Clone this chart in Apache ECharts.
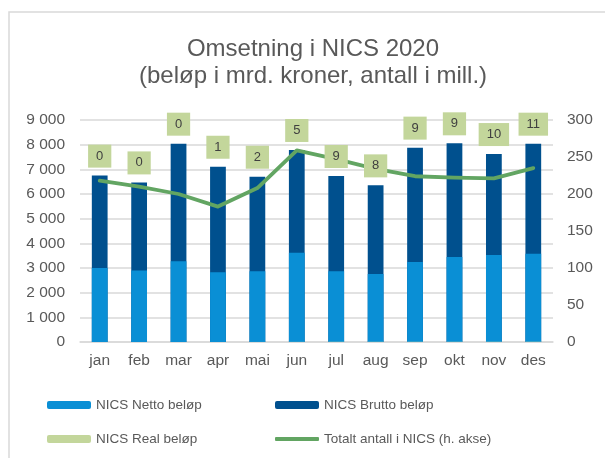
<!DOCTYPE html>
<html><head><meta charset="utf-8">
<script src="https://cdn.jsdelivr.net/npm/echarts@6/dist/echarts.min.js"></script>
<style>html,body{margin:0;padding:0;background:#fff}#c{width:605px;height:458px}</style>
</head><body><div id="c"></div>
<script>
const months = ['jan','feb','mar','apr','mai','jun','jul','aug','sep','okt','nov','des'];
const nettoValues = [3000, 2900, 3270, 2830, 2865, 3620, 2865, 2760, 3245, 3445, 3525, 3580];
const bruttoValues = [6745, 6470, 8040, 7105, 6700, 7785, 6730, 6350, 7880, 8055, 7620, 8040];
const realValues = [0, 0, 0, 1, 2, 5, 9, 8, 9, 9, 10, 11];
const antallValues = [218, 210, 200, 183, 208, 259, 247, 234, 224, 222, 221, 235];
const leftTicks = [0, 1000, 2000, 3000, 4000, 5000, 6000, 7000, 8000, 9000];
const rightTicks = [0, 50, 100, 150, 200, 250, 300];

const FONT = 'Liberation Sans, Arial, sans-serif';
const TXT = '#595959';
const GREEN_LINE = '#62a562';
const chart = echarts.init(document.getElementById('c'), null, {renderer: 'canvas'});
const legendBase = {padding: 0, itemWidth: 44, itemHeight: 8, textStyle: {color: TXT, fontSize: 13.5, fontFamily: FONT}, selectedMode: false};
chart.setOption({
  animation: false,
  graphic: [{type: 'rect', shape: {x: 9, y: 12, width: 700, height: 600}, style: {fill: 'none', stroke: '#d9d9d9', lineWidth: 1.5}, silent: true}],
  title: {
    text: 'Omsetning i NICS 2020\n(beløp i mrd. kroner, antall i mill.)',
    left: 308, top: 31, textAlign: 'center',
    textStyle: {color: TXT, fontSize: 24, fontWeight: 'normal', fontFamily: FONT, lineHeight: 27, align: 'center'}
  },
  legend: [
    Object.assign({data: ['NICS Netto beløp'], left: 47, top: 398}, legendBase),
    Object.assign({data: ['NICS Brutto beløp'], left: 275, top: 398}, legendBase),
    Object.assign({data: ['NICS Real beløp'], left: 47, top: 432}, legendBase),
    Object.assign({}, legendBase, {data: [{name: 'Totalt antall i NICS (h. akse)', icon: 'roundRect'}], left: 275, top: 432, itemHeight: 4,
      itemStyle: {color: GREEN_LINE}})
  ],
  grid: {left: 80, right: 52, top: 120, bottom: 116},
  xAxis: {
    type: 'category', data: months,
    axisLine: {lineStyle: {color: '#d9d9d9', width: 1.5}},
    axisTick: {show: false},
    axisLabel: {color: TXT, fontSize: 15.5, fontFamily: FONT, margin: 11}
  },
  yAxis: [
    {type: 'value', min: leftTicks[0], max: leftTicks[leftTicks.length-1], interval: 1000,
     axisLabel: {color: TXT, fontSize: 15.5, fontFamily: FONT, margin: 15, formatter: v => String(v).replace(/\B(?=(\d{3})+(?!\d))/g, ' ')},
     splitLine: {lineStyle: {color: '#d9d9d9', width: 1.5}}, axisLine: {show: false}, axisTick: {show: false}},
    {type: 'value', min: rightTicks[0], max: rightTicks[rightTicks.length-1], interval: 50,
     axisLabel: {color: TXT, fontSize: 15.5, fontFamily: FONT, margin: 14},
     splitLine: {show: false}, axisLine: {show: false}, axisTick: {show: false}}
  ],
  series: [
    {name: 'NICS Brutto beløp', type: 'bar', data: bruttoValues, barWidth: '40%', barGap: '-100%',
     itemStyle: {color: '#00508e'}, z: 2},
    {name: 'NICS Netto beløp', type: 'bar', data: nettoValues, barWidth: '40%', barGap: '-100%',
     itemStyle: {color: '#0a8fd5'}, z: 2},
    {name: 'NICS Real beløp', type: 'bar', data: realValues, barWidth: '40%', barGap: '-100%',
     itemStyle: {color: '#c3d69b'}, z: 2},
    {name: 'Totalt antall i NICS (h. akse)', type: 'line', yAxisIndex: 1, data: antallValues,
     symbol: 'none', z: 3, lineStyle: {color: GREEN_LINE, width: 3.8, cap: 'round', join: 'round'}, itemStyle: {color: GREEN_LINE}},
    {name: 'realLabels', type: 'bar', data: bruttoValues, barWidth: '40%', barGap: '-100%', z: 5, silent: true,
     itemStyle: {color: 'rgba(0,0,0,0)'},
     label: {show: true, position: 'top', distance: 8, formatter: p => String(realValues[p.dataIndex]),
       backgroundColor: '#c3d69b', color: '#404040', fontSize: 13, fontFamily: FONT, padding: [5, 8, 5, 8]}}
  ]
});
</script></body></html>
